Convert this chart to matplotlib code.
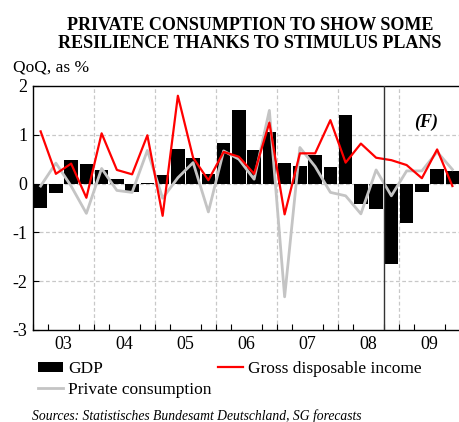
import matplotlib
matplotlib.use("Agg")
import matplotlib.pyplot as plt
from matplotlib.patches import Patch
from matplotlib.lines import Line2D
import numpy as np

plt.rcParams['font.family'] = ['Liberation Serif', 'DejaVu Serif']

years = ['03', '04', '05', '06', '07', '08', '09']
gdp = [-0.51, -0.20, 0.49, 0.41, 0.27, 0.09, -0.17, 0.02,
       0.17, 0.71, 0.53, 0.19, 0.84, 1.50, 0.69, 1.06,
       0.42, 0.36, 0.59, 0.34, 1.40, -0.42, -0.53, -1.65,
       -0.80, -0.17, 0.29, 0.25]
gross_income = [1.07, 0.20, 0.41, -0.29, 1.03, 0.28, 0.19, 0.99,
                -0.66, 1.80, 0.53, 0.07, 0.65, 0.55, 0.20, 1.25,
                -0.63, 0.62, 0.62, 1.30, 0.43, 0.82, 0.53, 0.48,
                0.38, 0.11, 0.70, -0.05]
private_cons = [-0.05, 0.42, -0.05, -0.61, 0.31, -0.14, -0.18, 0.68,
                -0.30, 0.12, 0.43, -0.58, 0.67, 0.50, 0.09, 1.50,
                -2.32, 0.74, 0.35, -0.18, -0.25, -0.62, 0.28, -0.25,
                0.26, 0.26, 0.65, 0.29]
forecast_start = 23  # 2008Q4

W, H = 460, 422
fig = plt.figure(figsize=(W / 100, H / 100), dpi=100)
left_px, right_px, top_px, bot_px = 33, 460, 86, 330
ax = fig.add_axes([left_px / W, 1 - bot_px / H, (right_px - left_px) / W, (bot_px - top_px) / H])

x = np.arange(len(gdp))
qpx = 15.58
ax.set_xlim(-0.5, -0.5 + (right_px - left_px) / qpx)
ax.set_ylim(-3, 2)

# grid
for yv in [-2, -1, 0, 1]:
    ax.axhline(yv, color='#c8c8c8', lw=0.9, ls=(0, (3, 2)), zorder=0)
for k in range(1, len(years)):
    ax.axvline(4 * k - 0.5, color='#c8c8c8', lw=0.9, ls=(0, (3, 2)), zorder=0)

ax.bar(x, gdp, width=0.9, color='black', edgecolor='none', zorder=2)
ax.plot(x, private_cons, color='#c4c4c4', lw=2.0, zorder=3)
ax.plot(x, gross_income, color='#ff0000', lw=1.6, zorder=4)
ax.axvline(forecast_start - 0.5, color='#333333', lw=1.0, zorder=5)
ax.text(25.3, 1.26, '(F)', fontsize=13, fontweight='bold',
        fontstyle='italic', ha='center', va='center')

ax.set_yticks([-3, -2, -1, 0, 1, 2])
ax.set_yticklabels(['-3', '-2', '-1', '0', '1', '2'])
ax.set_xticks([4 * k + 1.5 for k in range(len(years))])
ax.set_xticklabels(years)
ax.set_xticks(np.arange(-0.5, len(gdp), 1), minor=True)
ax.tick_params(axis='x', which='major', length=0, labelsize=13, pad=4)
ax.tick_params(axis='x', which='minor', direction='in', length=4, width=0.8)
ax.tick_params(axis='y', direction='in', length=4, width=0.8, labelsize=13, pad=4)
ax.spines['right'].set_visible(False)
for s in ['left', 'bottom', 'top']:
    ax.spines[s].set_linewidth(1.0)

fig.text(250 / W, 1 - 25 / H, 'PRIVATE CONSUMPTION TO SHOW SOME', ha='center', va='center',
         fontsize=13, fontweight='bold')
fig.text(250 / W, 1 - 43 / H, 'RESILIENCE THANKS TO STIMULUS PLANS', ha='center', va='center',
         fontsize=13, fontweight='bold')
fig.text(13 / W, 1 - 68 / H, 'QoQ, as %', ha='left', va='center', fontsize=12.5)

handles = [Patch(facecolor='black', edgecolor='none'),
           Line2D([], [], color='#c4c4c4', lw=2.0),
           Line2D([], [], color='#ff0000', lw=1.6)]
labels = ['GDP', 'Private consumption', 'Gross disposable income']
fig.legend(handles, labels, loc='upper left', bbox_to_anchor=(38 / W, 1 - 361 / H),
           ncol=2, frameon=False, fontsize=12.5, handlelength=1.45, handleheight=0.55,
           handletextpad=0.3, columnspacing=0.35, labelspacing=0.27,
           borderpad=0, borderaxespad=0)

fig.text(32 / W, 1 - 416 / H, 'Sources: Statistisches Bundesamt Deutschland, SG forecasts',
         ha='left', va='center', fontsize=9.8, fontstyle='italic')

fig.savefig('out.png', dpi=100)
